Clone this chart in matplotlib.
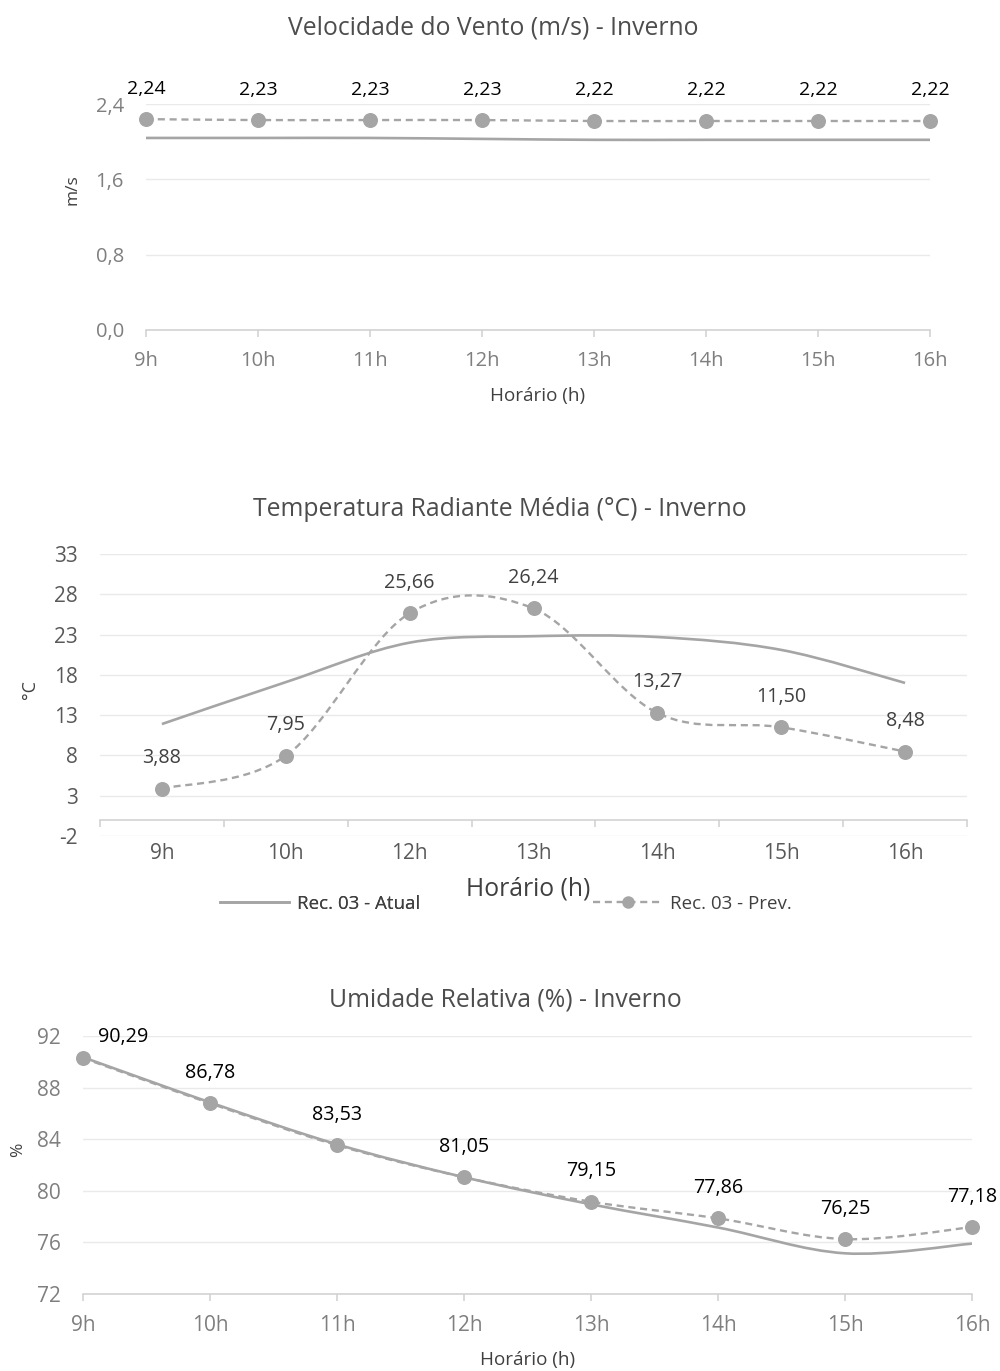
import matplotlib

matplotlib.use("Agg")
import matplotlib.pyplot as plt
from matplotlib.lines import Line2D
from matplotlib.path import Path
from matplotlib.patches import PathPatch
from matplotlib.ticker import FuncFormatter

plt.rcParams["font.family"] = ["Open Sans", "DejaVu Sans"]
plt.rcParams["axes.unicode_minus"] = False

# --- data -------------------------------------------------------------
hours_wind = ["9h", "10h", "11h", "12h", "13h", "14h", "15h", "16h"]
wind_atual = [2.04, 2.04, 2.04, 2.03, 2.02, 2.02, 2.02, 2.02]
wind_prev = [2.24, 2.23, 2.23, 2.23, 2.22, 2.22, 2.22, 2.22]

hours_trm = ["9h", "10h", "12h", "13h", "14h", "15h", "16h"]
trm_atual = [11.9, 17.1, 22.0, 22.8, 22.7, 21.1, 17.0]
trm_prev = [3.88, 7.95, 25.66, 26.24, 13.27, 11.50, 8.48]

hours_ur = ["9h", "10h", "11h", "12h", "13h", "14h", "15h", "16h"]
ur_atual = [90.35, 86.85, 83.6, 81.05, 78.95, 77.15, 75.15, 75.9]
ur_prev = [90.29, 86.78, 83.53, 81.05, 79.15, 77.86, 76.25, 77.18]

LINE = "#A5A5A5"
GRID = "#EAEAEA"
AXIS = "#D0D0D0"
TITLE = "#4D4D4D"


def comma(v, nd=2):
    return f"{v:.{nd}f}".replace(".", ",")


def smooth_path(xs, ys):
    """Excel-like smoothed line as cubic Bezier segments."""
    pts = list(zip(xs, ys))
    n = len(pts)
    verts = [pts[0]]
    codes = [Path.MOVETO]
    for i in range(n - 1):
        p0 = pts[i - 1] if i > 0 else pts[i]
        p1 = pts[i]
        p2 = pts[i + 1]
        p3 = pts[i + 2] if i + 2 < n else pts[i + 1]
        c1 = (p1[0] + (p2[0] - p0[0]) / 6, p1[1] + (p2[1] - p0[1]) / 6)
        c2 = (p2[0] - (p3[0] - p1[0]) / 6, p2[1] - (p3[1] - p1[1]) / 6)
        verts += [c1, c2, p2]
        codes += [Path.CURVE4] * 3
    return Path(verts, codes)


def draw_series(ax, atual, prev):
    xs = list(range(len(prev)))
    ax.add_patch(PathPatch(smooth_path(xs, atual), fill=False, edgecolor=LINE,
                           lw=1.9, capstyle="butt", zorder=3))
    ax.add_patch(PathPatch(smooth_path(xs, prev), fill=False, edgecolor=LINE,
                           lw=1.7, linestyle=(0, (3, 2)), zorder=4))
    ax.plot(xs, prev, ls="none", marker="o", ms=10.8, color=LINE,
            markeredgewidth=0, zorder=5, clip_on=False)


def style_axes(ax, tick_color, tick_size):
    for s in ("top", "right", "left"):
        ax.spines[s].set_visible(False)
    ax.spines["bottom"].set_color(AXIS)
    ax.spines["bottom"].set_linewidth(1.1)
    ax.grid(axis="y", color=GRID, lw=1.0, zorder=0)
    ax.set_axisbelow(True)
    ax.tick_params(axis="y", length=0, pad=16, labelsize=tick_size, labelcolor=tick_color)
    ax.tick_params(axis="x", length=5, width=1.1, color=AXIS, direction="out",
                   pad=10, labelsize=tick_size, labelcolor=tick_color)


fig = plt.figure(figsize=(10, 13.71), dpi=100)

# --- chart 1: wind speed ---------------------------------------------
ax1 = fig.add_axes([0.146, 0.7593, 0.784, 0.1648])
draw_series(ax1, wind_atual, wind_prev)
ax1.set_xlim(0, len(hours_wind) - 1)
ax1.set_ylim(0, 2.4)
ax1.set_yticks([0, 0.8, 1.6, 2.4])
ax1.yaxis.set_major_formatter(FuncFormatter(lambda v, p: comma(v, 1)))
ax1.set_xticks(range(len(hours_wind)))
ax1.set_xticklabels(hours_wind)
style_axes(ax1, "#7F7F7F", 14.5)
for i, v in enumerate(wind_prev):
    ax1.annotate(comma(v), (i, v), xytext=(0, 22), textcoords="offset points",
                 ha="center", va="center", fontsize=14, color="#000000")
fig.text(0.493, 1 - 28 / 1371, "Velocidade do Vento (m/s) - Inverno",
         ha="center", va="center", fontsize=17.8, color=TITLE)
fig.text(0.538, 1 - 396 / 1371, "Horário (h)", ha="center", va="center",
         fontsize=13.6, color="#404040")
fig.text(0.072, 1 - 190 / 1371, "m/s", ha="center", va="center", rotation=90,
         fontsize=12.5, color="#404040")

# --- chart 2: mean radiant temperature -------------------------------
ax2 = fig.add_axes([0.100, 0.3902, 0.867, 0.2057])
draw_series(ax2, trm_atual, trm_prev)
ax2.set_xlim(-0.5, len(hours_trm) - 0.5)
ax2.set_ylim(-2, 33)
ax2.set_yticks(range(-2, 34, 5))
style_axes(ax2, "#595959", 15)
ax2.spines["bottom"].set_position(("data", 0))
ax2.set_xticks([i - 0.5 for i in range(len(hours_trm) + 1)])
ax2.set_xticklabels([])
for i, h in enumerate(hours_trm):
    ax2.annotate(h, (i, -2), xytext=(0, -5), textcoords="offset points",
                 ha="center", va="top", fontsize=15, color="#595959")
for i, v in enumerate(trm_prev):
    ax2.annotate(comma(v), (i, v), xytext=(0, 22), textcoords="offset points",
                 ha="center", va="center", fontsize=14.2, color="#404040")
fig.text(0.500, 1 - 509 / 1371, "Temperatura Radiante Média (°C) - Inverno",
         ha="center", va="center", fontsize=17.8, color=TITLE)
fig.text(0.528, 1 - 889 / 1371, "Horário (h)", ha="center", va="center",
         fontsize=17.8, color="#404040")
fig.text(0.030, 1 - 690 / 1371, "°C", ha="center", va="center", rotation=90,
         fontsize=13, color="#404040")

h_atual = Line2D([], [], color=LINE, lw=1.9)
h_prev = Line2D([], [], color=LINE, lw=1.7, ls=(0, (3, 2)), marker="o", ms=9,
                markeredgewidth=0)
leg_kw = dict(loc="center left", frameon=False, fontsize=13.5, handlelength=3.7,
              handletextpad=0.4, borderaxespad=0, borderpad=0,
              labelcolor="#404040")
leg_a = fig.legend([h_atual], ["Rec. 03 - Atual"],
                   bbox_to_anchor=(0.220, 1 - 904 / 1371), **leg_kw)
fig.legend([h_prev], ["Rec. 03 - Prev."],
           bbox_to_anchor=(0.593, 1 - 904 / 1371), **leg_kw)
fig.add_artist(leg_a)

# --- chart 3: relative humidity --------------------------------------
ax3 = fig.add_axes([0.083, 0.0562, 0.889, 0.1882])
draw_series(ax3, ur_atual, ur_prev)
ax3.set_xlim(0, len(hours_ur) - 1)
ax3.set_ylim(72, 92)
ax3.set_yticks(range(72, 93, 4))
ax3.set_xticks(range(len(hours_ur)))
ax3.set_xticklabels(hours_ur)
style_axes(ax3, "#7F7F7F", 15)
for i, v in enumerate(ur_prev):
    off = (29, 15) if i == 0 else (0, 22)
    ax3.annotate(comma(v), (i, v), xytext=off, textcoords="offset points",
                 ha="center", va="center", fontsize=14.2, color="#000000")
fig.text(0.505, 1 - 1000 / 1371, "Umidade Relativa (%) - Inverno",
         ha="center", va="center", fontsize=17.8, color=TITLE)
fig.text(0.528, 1 - 1360 / 1371, "Horário (h)", ha="center", va="center",
         fontsize=13.6, color="#404040")
fig.text(0.018, 1 - 1150 / 1371, "%", ha="center", va="center", rotation=90,
         fontsize=12.5, color="#404040")

fig.savefig("out.png", dpi=100, facecolor="white")
